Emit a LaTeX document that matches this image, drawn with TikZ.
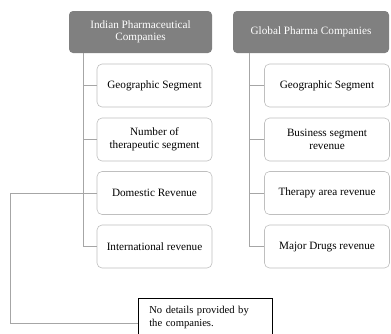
\documentclass[tikz,border=0pt]{standalone}
\usepackage{fontspec}
\setmainfont{Liberation Serif}
\begin{document}
\begin{tikzpicture}[x=1pt,y=-1pt,
  hdr/.style={draw=none,fill=hdrgray,rounded corners=4pt,text=white,align=center,inner sep=0pt,font=\fontsize{11.2}{12.5}\selectfont},
  child/.style={draw=boxgray,line width=0.6pt,fill=white,rounded corners=5pt,align=center,inner sep=0pt,font=\fontsize{11.2}{13}\selectfont},
  conn/.style={draw=linegray,line width=0.8pt},
  note/.style={draw=black,line width=0.6pt,fill=white,align=left,anchor=north west,inner sep=0pt,font=\fontsize{10.6}{13}\selectfont}]
\definecolor{hdrgray}{HTML}{808080}
\definecolor{boxgray}{HTML}{BFBFBF}
\definecolor{linegray}{HTML}{A6A6A6}
\useasboundingbox (0,0) rectangle (391,333);
% headers
\node[hdr,minimum width=143pt,minimum height=42pt] (h1) at (140.5,32) {Indian Pharmaceutical\\Companies};
\node[hdr,minimum width=156pt,minimum height=42pt] (h2) at (311,32) {Global Pharma Companies};
% left children
\node[child,minimum width=115pt,minimum height=43pt] (l1) at (154.5,85.5) {Geographic Segment};
\node[child,minimum width=115pt,minimum height=43pt] (l2) at (154.5,139.5) {Number of\\therapeutic segment};
\node[child,minimum width=115pt,minimum height=43pt] (l3) at (154.5,193) {Domestic Revenue};
\node[child,minimum width=115pt,minimum height=43pt] (l4) at (154.5,246.5) {International revenue};
% right children
\node[child,minimum width=125pt,minimum height=43pt] (r1) at (327,85.5) {Geographic Segment};
\node[child,minimum width=125pt,minimum height=43pt] (r2) at (327,139.5) {Business segment\\revenue};
\node[child,minimum width=125pt,minimum height=43pt] (r3) at (327,193) {Therapy area revenue};
\node[child,minimum width=125pt,minimum height=43pt] (r4) at (327,246.5) {Major Drugs revenue};
% note box
\node[note,minimum width=134pt,minimum height=42pt,text width=126pt] (nb) at (138,298) {\hspace*{7pt}\parbox[t]{124pt}{\vspace{-3pt}No details provided by\\the companies.}};
% trunks
\coordinate (t1) at (83,53);
\coordinate (t2) at (249,53);
\draw[conn] (t1) |- (l4.west);
\draw[conn] (t1 |- l1.west) -- (l1.west);
\draw[conn] (t1 |- l2.west) -- (l2.west);
\draw[conn] (t1 |- l3.west) -- (l3.west);
\draw[conn] (t2) |- (r4.west);
\draw[conn] (t2 |- r1.west) -- (r1.west);
\draw[conn] (t2 |- r2.west) -- (r2.west);
\draw[conn] (t2 |- r3.west) -- (r3.west);
% note connector
\coordinate (c1) at (10,193);
\coordinate (c2) at (10,323);
\draw[conn] (t1 |- l3.west) -- (c1) -- (c2) -- (nb.west |- c2);
\end{tikzpicture}
\end{document}
